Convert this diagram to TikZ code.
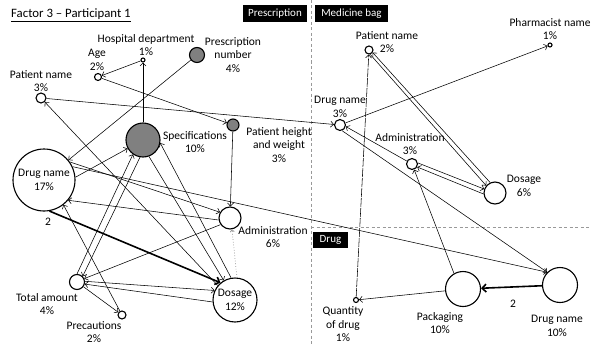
\documentclass[tikz,border=0pt]{standalone}
\usepackage{fontspec}
\setmainfont{Carlito}
\usetikzlibrary{arrows.meta}
\begin{document}
\begin{tikzpicture}[x=1pt,y=-1pt,
  every node/.style={font=\fontsize{11.5}{13.5}\selectfont},
  vert/.style={circle,draw=black,line width=1.1pt,fill=white,inner sep=0pt,align=center},
  gvert/.style={vert,fill=black!50},
  lbl/.style={align=center,inner sep=0pt},
  arr/.style={line width=0.55pt,-{Straight Barb[length=3pt,width=6pt]}},
  thk/.style={line width=1.6pt,-{Straight Barb[length=4pt,width=8pt]}},
  dots/.style={draw=black!45,line width=0.7pt,dotted,-{Straight Barb[length=2pt,width=4pt]}},
  tag/.style={fill=black,text=white,inner sep=0pt,minimum height=17pt,font=\fontsize{11}{13}\selectfont},
  sep/.style={draw=black!40,line width=0.7pt,dash pattern=on 3pt off 2.5pt}
]
\useasboundingbox (0,0) rectangle (591,345);

% separators
\coordinate (vtop) at (311,0);
\coordinate (vbot) at (311,345);
\coordinate (hl) at (311,227);
\coordinate (hr) at (591,227);
\draw[sep] (vtop) -- (vbot);
\draw[sep] (hl) -- (hr);

% title and tags
\node[anchor=west,inner sep=0pt,font=\fontsize{12.8}{14}\selectfont] (title) at (11,15) {\underline{Factor 3 – Participant 1}};
\node[tag,minimum width=64pt] (tpres) at (275,13.5) {Prescription};
\node[tag,minimum width=73pt] (tbag) at (351.5,13.5) {Medicine bag};
\node[tag,minimum width=35pt,minimum height=16pt] (tdrug) at (330.5,240) {Drug};

% left cluster nodes
\node[vert,minimum size=4pt] (hd) at (143,60) {};
\node[vert,minimum size=7pt] (age) at (98,77) {};
\node[gvert,minimum size=15pt] (pn) at (197,55) {};
\node[vert,minimum size=10pt] (pnl) at (41,98) {};
\node[gvert,minimum size=34pt] (spec) at (143,140) {};
\node[gvert,minimum size=12pt] (phw) at (233,125) {};
\node[vert,minimum size=62pt] (dn17) at (44,180) {Drug name\\17\%};
\node[vert,minimum size=22pt] (adm6) at (230,218) {};
\node[vert,minimum size=15pt] (ta) at (77,282) {};
\node[vert,minimum size=8pt] (prec) at (122,315) {};
\node[vert,minimum size=44pt] (dos12) at (235,300) {Dosage\\12\%};

% right nodes
\node[vert,minimum size=8pt] (pnr) at (369,50) {};
\node[vert,minimum size=4pt] (pharm) at (550,45) {};
\node[vert,minimum size=11pt] (dn3) at (340,125) {};
\node[vert,minimum size=11pt] (adm3) at (412,164) {};
\node[vert,minimum size=22pt] (dos6) at (495,193) {};
\node[vert,minimum size=5pt] (qty) at (356,300) {};
\node[vert,minimum size=35pt] (pack) at (463,289) {};
\node[vert,minimum size=35pt] (dn10) at (560,285) {};

% labels
\node[lbl] (hdL) at (146,45) {Hospital department\\1\%};
\node[lbl] (ageL) at (97,60) {Age\\2\%};
\node[lbl] (pnL) at (233,55) {Prescription\\number\\4\%};
\node[lbl] (pnlL) at (41,81) {Patient name\\3\%};
\node[lbl] (specL) at (195,142) {Specifications\\10\%};
\node[lbl] (phwL) at (279,145) {Patient height\\and weight\\3\%};
\node[lbl] (adm6L) at (273,237) {Administration\\6\%};
\node[lbl] (taL) at (47,304) {Total amount\\4\%};
\node[lbl] (precL) at (94,332) {Precautions\\2\%};
\node[lbl] (pnrL) at (387,42) {Patient name\\2\%};
\node[lbl] (pharmL) at (550,29) {Pharmacist name\\1\%};
\node[lbl] (dn3L) at (340,107) {Drug name\\3\%};
\node[lbl] (adm3L) at (410,144) {Administration\\3\%};
\node[lbl] (dos6L) at (524,186) {Dosage\\6\%};
\node[lbl] (qtyL) at (343,324.5) {Quantity\\of drug\\1\%};
\node[lbl] (packL) at (440,323) {Packaging\\10\%};
\node[lbl] (dn10L) at (557,326) {Drug name\\10\%};
\node[lbl] (w1) at (48,222) {2};
\node[lbl] (w2) at (513,304) {2};

% left edges
\draw[arr] (spec) -- (hd);
\draw[arr] (hd) -- (age);
\draw[arr] (age) -- (phw);
\draw[arr] (pn) -- (dn17);
\draw[arr] (pnl) -- (dn3);
\draw[arr] (dos12.140) -- (pnl);
\draw[arr] (dn17.5) -- (spec);
\draw[arr] (phw) -- (adm6);
\draw[arr] (dn17.35) -- (adm6.150);
\draw[arr] (dn17.25) -- (dn10.135);
\draw[thk] (dn17.-80) -- (dos12.130);
\draw[arr] (adm6.190) -- (dn17.-40);
\draw[arr] (adm6.-145) -- (ta.25);
\draw[dots] (dos12.85) -- (adm6.-80);
\draw[arr] (ta.5) -- (dos12.155);
\draw[arr] (dos12.185) -- (ta.-15);
\draw[arr] (ta) -- (prec);
\draw[arr] (prec) -- (dn17.-52);
\draw[arr] (ta.90) -- (spec.-125);
\draw[arr] (spec.-100) -- (ta.45);
\draw[arr] (spec.-70) -- (dos12.120);
\draw[arr] (dos12.100) -- (spec.-10);

% right edges
\draw[arr] (dn3) -- (pharm);
\draw[arr,dash pattern=on 9pt off 1pt] (qty) -- (pnr);
\draw[arr] (pnr.-75) -- (dos6.140);
\draw[arr] (dos6.115) -- (pnr.-35);
\draw[arr] (adm3) -- (dn3.-15);
\draw[arr] (dn3.-70) -- (dn10.135);
\draw[arr] (adm3.10) -- (dos6.160);
\draw[arr] (dos6.185) -- (adm3.-30);
\draw[arr] (pack.120) -- (adm3);
\draw[arr] (pack) -- (qty);
\draw[thk] (dn10) -- (pack);
\end{tikzpicture}
\end{document}
